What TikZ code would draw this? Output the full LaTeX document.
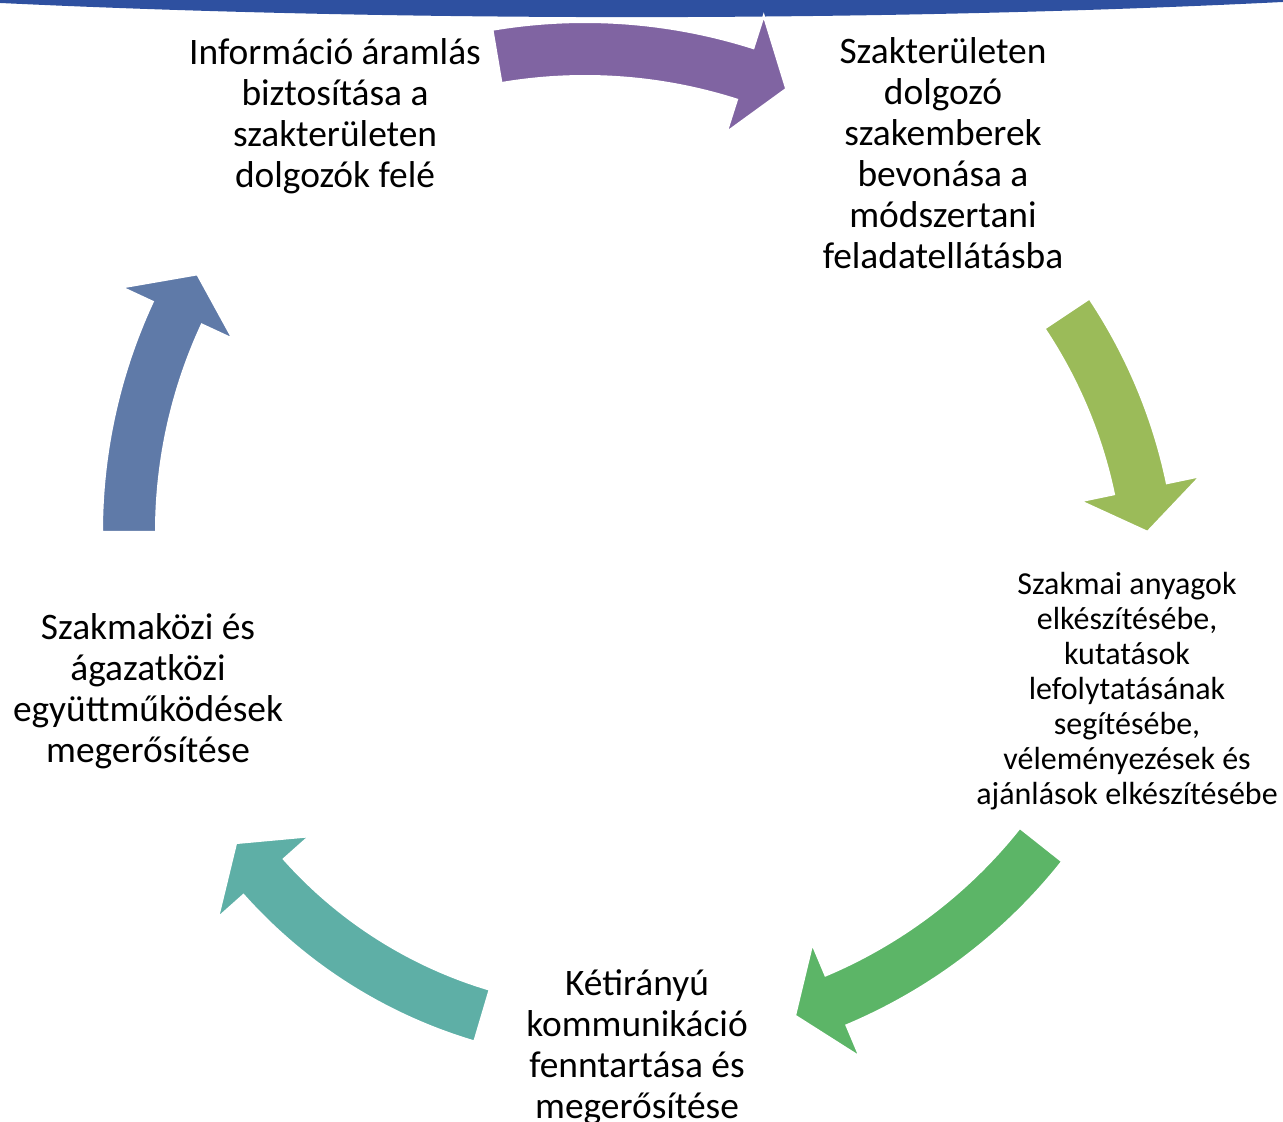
\documentclass[tikz,border=0pt]{standalone}
\usepackage[usenames,dvipsnames]{xcolor}
\usepackage{fontspec}
\setmainfont{Carlito}
\usepackage{tikz}

\definecolor{bandblue}{RGB}{46,80,160}
\definecolor{cycviolet}{RGB}{128,100,162}
\definecolor{cyclime}{RGB}{155,187,89}
\definecolor{cycgreen}{RGB}{92,181,103}
\definecolor{cycteal}{RGB}{94,175,166}
\definecolor{cycblue}{RGB}{95,122,168}

% #1 colour, #2 #3 centre, #4 radius, #5 tail angle, #6 tip angle
\newcommand{\CycArrow}[6]{%
    \pgfmathsetmacro{\hb}{#6+2500/#4}%
    \pgfmathsetmacro{\ro}{#4+27}%
    \pgfmathsetmacro{\ri}{#4-27}%
    \pgfmathsetmacro{\wo}{#4+61}%
    \pgfmathsetmacro{\wi}{#4-61}%
    \fill[#1,draw=white,line width=1pt,line join=miter]
        ([shift={(#2,#3)}]#5:\ro) arc[start angle=#5,end angle=\hb,radius=\ro]
        -- ([shift={(#2,#3)}]\hb:\wo) -- ([shift={(#2,#3)}]#6:#4)
        -- ([shift={(#2,#3)}]\hb:\wi) -- ([shift={(#2,#3)}]\hb:\ri)
        arc[start angle=\hb,end angle=#5,radius=\ri] -- cycle;
}

\begin{document}
\begin{tikzpicture}[x=0.5pt,y=0.5pt,
    txt/.style={align=center,inner sep=0pt,font=\fontsize{18.7}{20.5}\selectfont},
    smalltxt/.style={align=center,inner sep=0pt,font=\fontsize{16}{17.5}\selectfont}]
    \useasboundingbox (0,0) rectangle (1283,1122);
    \clip (0,0) rectangle (1283,1122);
    \fill[bandblue] (0,1122) -- (0,1119) .. controls (400,1100) and (880,1100) .. (1283,1120) -- (1283,1122) -- cycle;

    \CycArrow{cycviolet}{585}{545}{528}{99.6}{67.6}
    \CycArrow{cyclime}{651}{531}{500}{33.7}{6.8}
    \CycArrow{cycgreen}{635}{599}{518}{-38.4}{-72.0}
    \CycArrow{cycteal}{616}{559}{472}{253.5}{216.4}
    \CycArrow{cycblue}{649}{590}{520}{180}{150.3}

    \node[txt] (v1) at (335,1006) {Információ áramlás\\biztosítása a\\szakterületen\\dolgozók felé};
    \node[txt] (v2) at (943,969) {Szakterületen\\dolgozó\\szakemberek\\bevonása a\\módszertani\\feladatellátásba};
    \node[smalltxt] (v3) at (1127,431) {Szakmai anyagok\\elkészítésébe,\\kutatások\\lefolytatásának\\segítésébe,\\véleményezések és\\ajánlások elkészítésébe};
    \node[txt] (v4) at (637,75) {Kétirányú\\kommunikáció\\fenntartása és\\megerősítése};
    \node[txt] (v5) at (148,431) {Szakmaközi és\\ágazatközi\\együttműködések\\megerősítése};
\end{tikzpicture}
\end{document}
